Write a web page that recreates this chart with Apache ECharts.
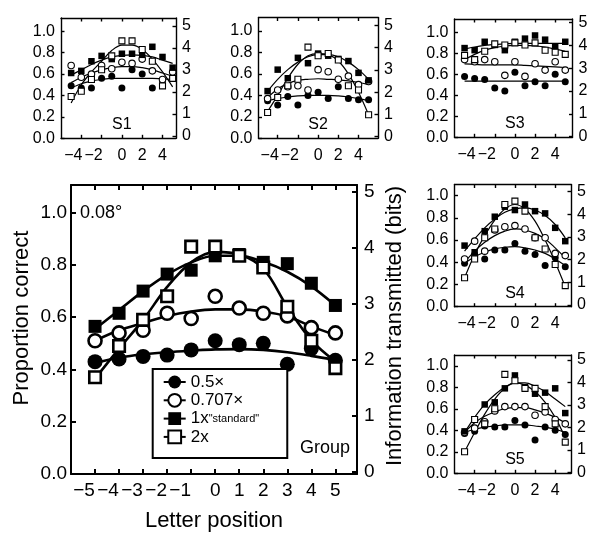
<!DOCTYPE html>
<html><head><meta charset="utf-8">
<script src="https://cdn.jsdelivr.net/npm/echarts@6/dist/echarts.min.js"></script>
<style>html,body{margin:0;padding:0;background:#fff}#c{width:603px;height:540px}</style>
</head><body><div id="c"></div>
<script>
// ---------- data ----------
const positions = [-5, -4, -3, -2, -1, 0, 1, 2, 3, 4, 5];
const conditions = ['0.5×', '0.707×', '1x', '2x'];
const groupXTickLabels = [-5, -4, -3, -2, -1, 0, 1, 2, 3, 4, 5];
const smallXTickLabels = [-4, -2, 0, 2, 4];
const propTickLabels = [0, 0.2, 0.4, 0.6, 0.8, 1.0];
const bitsTickLabels = [0, 1, 2, 3, 4, 5];

// Group
const group_half = [0.43, 0.44, 0.45, 0.455, 0.475, 0.51, 0.495, 0.50, 0.42, 0.48, 0.435];
const group_707  = [0.51, 0.54, 0.55, 0.615, 0.595, 0.68, 0.635, 0.615, 0.605, 0.56, 0.54];
const group_one  = [0.565, 0.615, 0.70, 0.765, 0.78, 0.835, 0.84, 0.81, 0.805, 0.73, 0.645];
const group_two  = [0.37, 0.49, 0.59, 0.68, 0.87, 0.87, 0.835, 0.79, 0.64, 0.51, 0.405];
const group_half_fit = [0.425, 0.445, 0.458, 0.466, 0.472, 0.477, 0.478, 0.475, 0.466, 0.452, 0.436];
const group_707_fit  = [0.51, 0.55, 0.578, 0.605, 0.622, 0.63, 0.63, 0.622, 0.603, 0.565, 0.532];
const group_one_fit  = [0.555, 0.627, 0.70, 0.763, 0.81, 0.835, 0.835, 0.812, 0.774, 0.718, 0.645];
const group_two_fit  = [0.365, 0.48, 0.59, 0.716, 0.81, 0.85, 0.84, 0.786, 0.64, 0.512, 0.43];

// S1
const S1_half = [0.49, 0.47, 0.47, 0.56, 0.58, 0.47, 0.64, 0.60, 0.47, 0.54, 0.57];
const S1_707  = [0.68, 0.57, 0.60, 0.68, 0.65, 0.71, 0.70, 0.74, 0.63, 0.55, 0.62];
const S1_one  = [0.61, 0.63, 0.72, 0.77, 0.74, 0.79, 0.79, 0.78, 0.855, 0.76, 0.66];
const S1_two  = [0.39, 0.44, 0.55, 0.64, 0.77, 0.91, 0.91, 0.83, 0.72, 0.49, 0.56];
const S1_half_fit = [0.47, 0.51, 0.535, 0.55, 0.56, 0.56, 0.56, 0.56, 0.56, 0.555, 0.55];
const S1_707_fit  = [0.52, 0.57, 0.61, 0.64, 0.66, 0.67, 0.67, 0.66, 0.64, 0.61, 0.58];
const S1_one_fit  = [0.59, 0.64, 0.69, 0.73, 0.76, 0.775, 0.78, 0.775, 0.76, 0.73, 0.70];
const S1_two_fit  = [0.33, 0.50, 0.62, 0.72, 0.82, 0.87, 0.87, 0.83, 0.74, 0.62, 0.48];

// S2
const S2_half = [0.35, 0.31, 0.39, 0.31, 0.40, 0.43, 0.37, 0.48, 0.37, 0.36, 0.36];
const S2_707  = [0.37, 0.45, 0.48, 0.49, 0.45, 0.64, 0.62, 0.55, 0.58, 0.50, 0.53];
const S2_one  = [0.44, 0.64, 0.56, 0.75, 0.70, 0.79, 0.77, 0.74, 0.72, 0.61, 0.54];
const S2_two  = [0.24, 0.38, 0.49, 0.55, 0.85, 0.77, 0.79, 0.73, 0.49, 0.45, 0.22];
const S2_half_fit = [0.35, 0.37, 0.385, 0.395, 0.40, 0.40, 0.40, 0.395, 0.385, 0.37, 0.35];
const S2_707_fit  = [0.38, 0.46, 0.51, 0.54, 0.55, 0.555, 0.55, 0.545, 0.535, 0.52, 0.50];
const S2_one_fit  = [0.44, 0.55, 0.64, 0.71, 0.76, 0.78, 0.78, 0.76, 0.71, 0.64, 0.55];
const S2_two_fit  = [0.25, 0.40, 0.56, 0.69, 0.77, 0.79, 0.78, 0.72, 0.60, 0.43, 0.22];

// S3
const S3_half = [0.58, 0.56, 0.55, 0.47, 0.44, 0.62, 0.49, 0.53, 0.49, 0.60, 0.53];
const S3_707  = [0.74, 0.72, 0.74, 0.72, 0.59, 0.72, 0.58, 0.70, 0.64, 0.72, 0.64];
const S3_one  = [0.85, 0.83, 0.91, 0.88, 0.83, 0.91, 0.94, 0.97, 0.93, 0.86, 0.91];
const S3_two  = [0.78, 0.74, 0.82, 0.89, 0.88, 0.90, 0.88, 0.90, 0.83, 0.81, 0.79];
const S3_half_fit = [0.535, 0.535, 0.535, 0.535, 0.535, 0.535, 0.535, 0.535, 0.535, 0.535, 0.535];
const S3_707_fit  = [0.70, 0.695, 0.69, 0.69, 0.69, 0.69, 0.685, 0.68, 0.675, 0.67, 0.665];
const S3_one_fit  = [0.84, 0.86, 0.875, 0.885, 0.89, 0.895, 0.895, 0.895, 0.895, 0.895, 0.895];
const S3_two_fit  = [0.74, 0.79, 0.83, 0.855, 0.87, 0.875, 0.875, 0.87, 0.86, 0.84, 0.82];

// S4
const S4_half = [0.39, 0.47, 0.43, 0.51, 0.51, 0.57, 0.50, 0.47, 0.37, 0.44, 0.36];
const S4_707  = [0.43, 0.59, 0.50, 0.69, 0.72, 0.73, 0.70, 0.62, 0.62, 0.48, 0.46];
const S4_one  = [0.55, 0.49, 0.68, 0.81, 0.90, 0.87, 0.92, 0.86, 0.84, 0.71, 0.59];
const S4_two  = [0.26, 0.43, 0.62, 0.70, 0.92, 0.95, 0.86, 0.62, 0.52, 0.38, 0.19];
const S4_half_fit = [0.39, 0.45, 0.49, 0.52, 0.535, 0.54, 0.53, 0.51, 0.48, 0.43, 0.37];
const S4_707_fit  = [0.40, 0.50, 0.58, 0.64, 0.68, 0.70, 0.69, 0.66, 0.61, 0.53, 0.44];
const S4_one_fit  = [0.50, 0.61, 0.71, 0.79, 0.85, 0.88, 0.89, 0.87, 0.82, 0.74, 0.62];
const S4_two_fit  = [0.26, 0.47, 0.64, 0.78, 0.88, 0.92, 0.88, 0.77, 0.60, 0.40, 0.18];

// S5
const S5_half = [0.37, 0.39, 0.44, 0.43, 0.43, 0.49, 0.45, 0.31, 0.43, 0.40, 0.36];
const S5_707  = [0.38, 0.42, 0.48, 0.58, 0.62, 0.62, 0.62, 0.54, 0.57, 0.50, 0.46];
const S5_one  = [0.39, 0.50, 0.64, 0.66, 0.79, 0.91, 0.80, 0.74, 0.75, 0.79, 0.56];
const S5_two  = [0.20, 0.50, 0.46, 0.60, 0.92, 0.86, 0.79, 0.79, 0.62, 0.46, 0.29];
const S5_half_fit = [0.38, 0.41, 0.43, 0.44, 0.45, 0.45, 0.45, 0.44, 0.43, 0.41, 0.38];
const S5_707_fit  = [0.38, 0.47, 0.53, 0.57, 0.60, 0.61, 0.61, 0.59, 0.56, 0.52, 0.47];
const S5_one_fit  = [0.38, 0.52, 0.64, 0.73, 0.80, 0.84, 0.84, 0.81, 0.76, 0.69, 0.62];
const S5_two_fit  = [0.20, 0.38, 0.55, 0.69, 0.79, 0.84, 0.82, 0.76, 0.66, 0.52, 0.33];

// ---------- layout / style ----------
const FONT = '"Liberation Sans", Arial, Helvetica, sans-serif';
const panels = [
  { key: 'Group', big: true, grid: { left: 71, top: 185, width: 286, height: 289 },
    xr: [-6, 5.9], yr: [0, 1.106], br: [-0.04, 5.12], xLabels: groupXTickLabels,
    pts: [group_half, group_707, group_one, group_two],
    fits: [group_half_fit, group_707_fit, group_one_fit, group_two_fit] },
  { key: 'S1', grid: { left: 61, top: 18, width: 115, height: 120.3 },
    xr: [-6, 5.33], yr: [0, 1.124], br: [-0.105, 5.36], xLabels: smallXTickLabels,
    pts: [S1_half, S1_707, S1_one, S1_two], fits: [S1_half_fit, S1_707_fit, S1_one_fit, S1_two_fit] },
  { key: 'S2', grid: { left: 258.5, top: 17.5, width: 119.5, height: 120.8 },
    xr: [-5.9, 5.93], yr: [0, 1.126], br: [-0.07, 5.35], xLabels: smallXTickLabels,
    pts: [S2_half, S2_707, S2_one, S2_two], fits: [S2_half_fit, S2_707_fit, S2_one_fit, S2_two_fit] },
  { key: 'S3', grid: { left: 454.5, top: 19, width: 118, height: 118.3 },
    xr: [-6, 5.72], yr: [0, 1.127], br: [-0.03, 5.16], xLabels: smallXTickLabels,
    pts: [S3_half, S3_707, S3_one, S3_two], fits: [S3_half_fit, S3_707_fit, S3_one_fit, S3_two_fit] },
  { key: 'S4', grid: { left: 454.5, top: 184.5, width: 116.5, height: 122.2 },
    xr: [-6, 5.57], yr: [0, 1.10], br: [-0.075, 5.32], xLabels: smallXTickLabels,
    pts: [S4_half, S4_707, S4_one, S4_two], fits: [S4_half_fit, S4_707_fit, S4_one_fit, S4_two_fit] },
  { key: 'S5', grid: { left: 454.5, top: 355, width: 116.5, height: 118.3 },
    xr: [-6, 5.57], yr: [0, 1.10], br: [-0.03, 5.22], xLabels: smallXTickLabels,
    pts: [S5_half, S5_707, S5_one, S5_two], fits: [S5_half_fit, S5_707_fit, S5_one_fit, S5_two_fit] }
];

const legendSymbols = ['circle', 'emptyCircle', 'rect', 'emptyRect'];
const pointSymbols = ['circle', 'circle', 'rect', 'rect'];
const isOpen = [false, true, false, true];

const grids = [], xAxes = [], yAxes = [], series = [], graphics = [];

panels.forEach((p, i) => {
  const big = !!p.big;
  const axisW = big ? 2 : 1.4;
  const tickLen = big ? 5 : 3.5;
  const fs = big ? 19 : 16;
  const negPad = big ? 22 : 16;
  grids.push(Object.assign({ containLabel: false }, p.grid));
  const lineStyle = { color: '#000', width: axisW };
  const labelBase = { color: '#000', fontSize: fs, fontFamily: FONT };
  // bottom x
  xAxes.push({
    type: 'value', gridIndex: i, position: 'bottom', min: p.xr[0], max: p.xr[1],
    axisLine: { show: true, onZero: false, lineStyle },
    axisTick: { show: true, inside: true, length: tickLen, customValues: p.xLabels, lineStyle },
    axisLabel: Object.assign({}, labelBase, {
      customValues: p.xLabels, margin: big ? 7 : 9,
      formatter: v => (v < 0 ? '{n|−' + Math.abs(v) + '}' : String(v)),
      rich: { n: Object.assign({}, labelBase, { padding: [0, negPad, 0, 0] }) }
    }),
    splitLine: { show: false }
  });
  // top x (frame + ticks)
  xAxes.push({
    type: 'value', gridIndex: i, position: 'top', min: p.xr[0], max: p.xr[1],
    axisLine: { show: true, onZero: false, lineStyle },
    axisTick: { show: true, inside: true, length: tickLen, customValues: p.xLabels, lineStyle },
    axisLabel: { show: false }, splitLine: { show: false }
  });
  // left y
  yAxes.push({
    type: 'value', gridIndex: i, position: 'left', min: p.yr[0], max: p.yr[1],
    axisLine: { show: true, onZero: false, lineStyle },
    axisTick: { show: true, inside: true, length: tickLen, customValues: propTickLabels, lineStyle },
    axisLabel: Object.assign({}, labelBase, {
      customValues: propTickLabels, margin: big ? 4 : 6, formatter: v => v.toFixed(1)
    }),
    splitLine: { show: false }
  });
  // right y (bits)
  yAxes.push({
    type: 'value', gridIndex: i, position: 'right', min: p.br[0], max: p.br[1],
    axisLine: { show: true, onZero: false, lineStyle },
    axisTick: { show: true, inside: true, length: tickLen, customValues: bitsTickLabels, lineStyle },
    axisLabel: Object.assign({}, labelBase, {
      customValues: bitsTickLabels, margin: big ? 7 : 6, formatter: v => String(v)
    }),
    splitLine: { show: false }
  });

  // fitted curves
  p.fits.forEach((f, k) => {
    series.push({
      type: 'line', name: big ? conditions[k] : p.key + ' fit ' + conditions[k],
      xAxisIndex: 2 * i, yAxisIndex: 2 * i,
      data: positions.map((x, j) => [x, f[j]]),
      smooth: 0.35, symbol: legendSymbols[k], showSymbol: false,
      lineStyle: { color: '#000', width: big ? 2.6 : 1.2 },
      itemStyle: { color: '#000' }, silent: true, z: 2
    });
  });
  // data points
  const sizes = big ? [15, 13, 13, 11.5] : [7, 6.5, 6.5, 6];
  p.pts.forEach((d, k) => {
    series.push({
      type: 'scatter', name: p.key + ' ' + conditions[k],
      xAxisIndex: 2 * i, yAxisIndex: 2 * i,
      data: positions.map((x, j) => [x, d[j]]),
      symbol: pointSymbols[k], symbolSize: sizes[k],
      itemStyle: isOpen[k]
        ? { color: '#fff', borderColor: '#000', borderWidth: big ? 2.6 : 1.1, opacity: 1 }
        : { color: '#000', opacity: 1 },
      silent: true, z: 3 + k
    });
  });

  // panel title
  if (!big) {
    const x0 = p.grid.left + (0 - p.xr[0]) / (p.xr[1] - p.xr[0]) * p.grid.width;
    graphics.push({
      type: 'text', x: x0, y: p.grid.top + p.grid.height - 13.5, z: 10,
      style: { text: p.key, font: '16px ' + FONT, fill: '#000',
               align: 'center', verticalAlign: 'middle', textAlign: 'center', textVerticalAlign: 'middle' }
    });
  }
});

function txt(text, x, y, size, align, rot) {
  return {
    type: 'text', x, y, rotation: rot || 0, z: 10,
    style: { text, font: size + 'px ' + FONT, fill: '#000',
             align: align, verticalAlign: 'middle', textAlign: align, textVerticalAlign: 'middle' }
  };
}
graphics.push(txt('Proportion correct', 22, 318, 22, 'center', Math.PI / 2));
graphics.push(txt('Information transmitted (bits)', 395, 326, 22, 'center', Math.PI / 2));
graphics.push(txt('Letter position', 214, 521, 22, 'center', 0));
graphics.push(txt('0.08°', 80, 213, 18, 'left', 0));
graphics.push(txt('Group', 350, 448, 18, 'right', 0));

const option = {
  animation: false,
  backgroundColor: '#fff',
  grid: grids, xAxis: xAxes, yAxis: yAxes, series,
  legend: {
    data: conditions, orient: 'vertical', left: 152.7, top: 369,
    itemWidth: 22, itemHeight: 16, itemGap: 0.3,
    padding: [4, 28, 12, 10], borderColor: '#000', borderWidth: 2, borderRadius: 0,
    backgroundColor: '#fff', selectedMode: false, z: 20,
    textStyle: { color: '#000', fontSize: 17, fontFamily: FONT, lineHeight: 18,
      rich: { s: { color: '#000', fontSize: 11, fontFamily: FONT } } },
    formatter: name => (name === '1x' ? '1x{s|"standard"}' : name)
  },
  graphic: graphics
};
const chart = echarts.init(document.getElementById('c'), null, { renderer: 'canvas' });
chart.setOption(option);
</script>
</body></html>
